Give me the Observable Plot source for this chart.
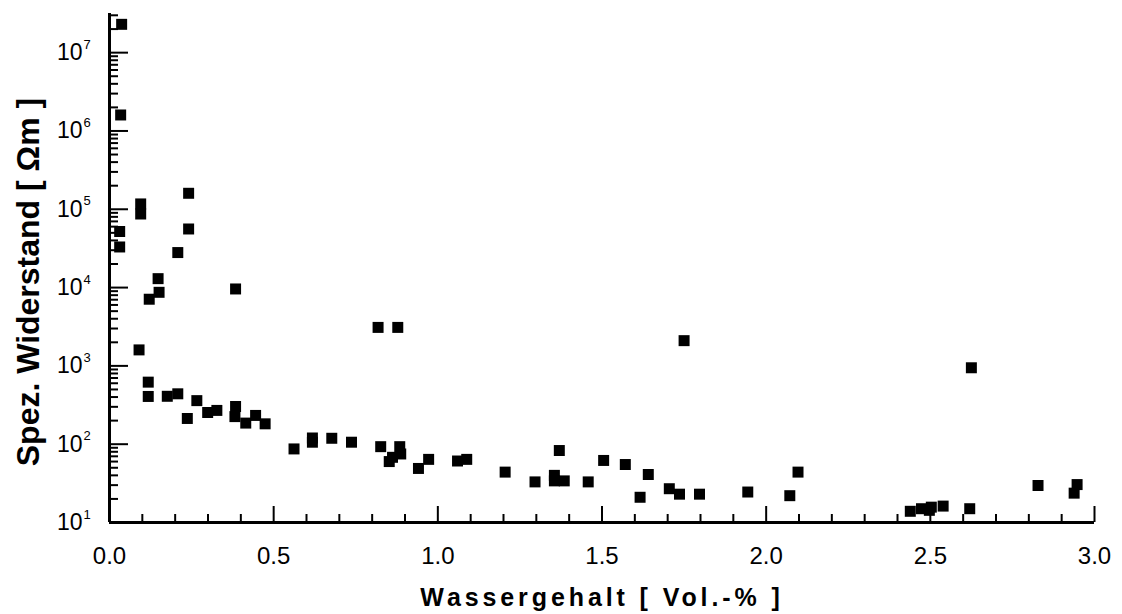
<!DOCTYPE html>
<html><head><meta charset="utf-8">
<script src="https://cdn.jsdelivr.net/npm/d3@7"></script>
<script src="https://cdn.jsdelivr.net/npm/@observablehq/plot@0.6"></script>
<style>
body{margin:0;background:#fff}
</style></head><body><div id="chart"></div>
<script>
// Water content [Vol.-%]
const wasser = [0.037,0.034,0.095,0.095,0.241,0.241,0.031,0.031,0.208,0.148,0.151,0.121,0.384,0.090,0.118,0.118,0.176,0.208,0.237,0.266,0.299,0.327,0.384,0.382,0.415,0.445,0.474,0.562,0.618,0.618,0.677,0.737,0.818,0.878,0.826,0.884,0.887,0.852,0.862,0.941,0.972,1.060,1.088,1.205,1.296,1.355,1.355,1.370,1.385,1.458,1.505,1.571,1.616,1.641,1.705,1.736,1.750,1.797,1.944,2.072,2.097,2.439,2.473,2.497,2.503,2.539,2.620,2.625,2.828,2.938,2.947];
// Specific resistivity [Ohm m]
const widerstand = [2.3e7,1.6e6,1.17e5,8.7e4,1.6e5,5.6e4,5.2e4,3.3e4,2.8e4,1.3e4,8.7e3,7.1e3,9.6e3,1600,620,407,409,440,213,360,254,270,303,225,186,233,182,87,106,120,119,106,3100,3100,93,93,75,60,68,49,64,61,64,44,33,40,34,83,34,33,62,55,21,41,27,23,2100,23,24.5,22,44,13.9,15,14.3,15.7,16.2,15,946,29.7,23.7,30.5];

const xMajor = [0, 0.5, 1.0, 1.5, 2.0, 2.5, 3.0];
const xMinor = d3.range(1, 30).map(i => i / 10).filter(v => Math.abs(v * 2 - Math.round(v * 2)) > 1e-9);
const yExponents = [1, 2, 3, 4, 5, 6, 7];
const yMajor = yExponents.map(e => Math.pow(10, e));
const yMinor = [];
for (const e of yExponents) for (let k = 2; k <= 9; k++) { const v = k * Math.pow(10, e); if (v <= Math.pow(10, 7.5)) yMinor.push(v); }

const xTitle = "Wassergehalt [ Vol.-% ]";
const yTitle = "Spez. Widerstand [ Ωm ]";

const points = wasser.map((w, i) => ({w, r: widerstand[i]}));

const W = 1122, H = 614, mL = 109, mR = 28, mT = 13, mB = 92;
const frameW = W - mL - mR, frameH = H - mT - mB;

const chart = Plot.plot({
  width: W,
  height: H,
  marginLeft: mL,
  marginRight: mR,
  marginTop: mT,
  marginBottom: mB,
  style: {fontFamily: "'Liberation Sans', Arial, sans-serif", background: "#fff", color: "#000"},
  x: {domain: [0, 3], label: null},
  y: {type: "log", domain: [10, Math.pow(10, 7.5)], label: null, axis: null},
  marks: [
    // inward ticks
    Plot.tickX(xMinor, {x: d => d, insetTop: frameH - 8, strokeWidth: 2}),
    Plot.tickX(xMajor, {x: d => d, insetTop: frameH - 16, strokeWidth: 2}),
    Plot.tickY(yMinor, {y: d => d, insetRight: frameW - 9, strokeWidth: 2}),
    Plot.tickY(yMajor, {y: d => d, insetRight: frameW - 19, strokeWidth: 2}),
    // x tick labels
    Plot.axisX({ticks: xMajor, tickSize: 0, tickPadding: 24, tickFormat: d3.format(".1f"), fontSize: 24, label: null}),
    // y tick labels 10^n
    Plot.text(yMajor, {y: d => d, frameAnchor: "left", text: () => "10", textAnchor: "end", lineAnchor: "middle", dx: -27, fontSize: 23}),
    Plot.text(yMajor, {y: d => d, frameAnchor: "left", text: d => String(Math.round(Math.log10(d))), textAnchor: "start", lineAnchor: "middle", dx: -26, dy: -8, fontSize: 13}),
    // axis lines
    Plot.ruleX([0], {strokeWidth: 3}),
    Plot.ruleY([10], {strokeWidth: 3}),
    // data
    Plot.dot(points, {x: "w", y: "r", symbol: "square", r: 6.2, fill: "#000", stroke: null}),
    // titles
    Plot.text([xTitle], {frameAnchor: "bottom", textAnchor: "middle", lineAnchor: "middle", dy: 75, fontSize: 25, fontWeight: "bold"}),
    Plot.text([yTitle], {frameAnchor: "left", textAnchor: "middle", lineAnchor: "middle", rotate: -90, dx: -81, dy: 14, fontSize: 32, fontWeight: "bold"})
  ]
});
d3.select(chart).selectAll("text").filter(function() { return this.textContent === xTitle; }).attr("letter-spacing", "3.9px");
document.getElementById("chart").appendChild(chart);
</script>
</body></html>
